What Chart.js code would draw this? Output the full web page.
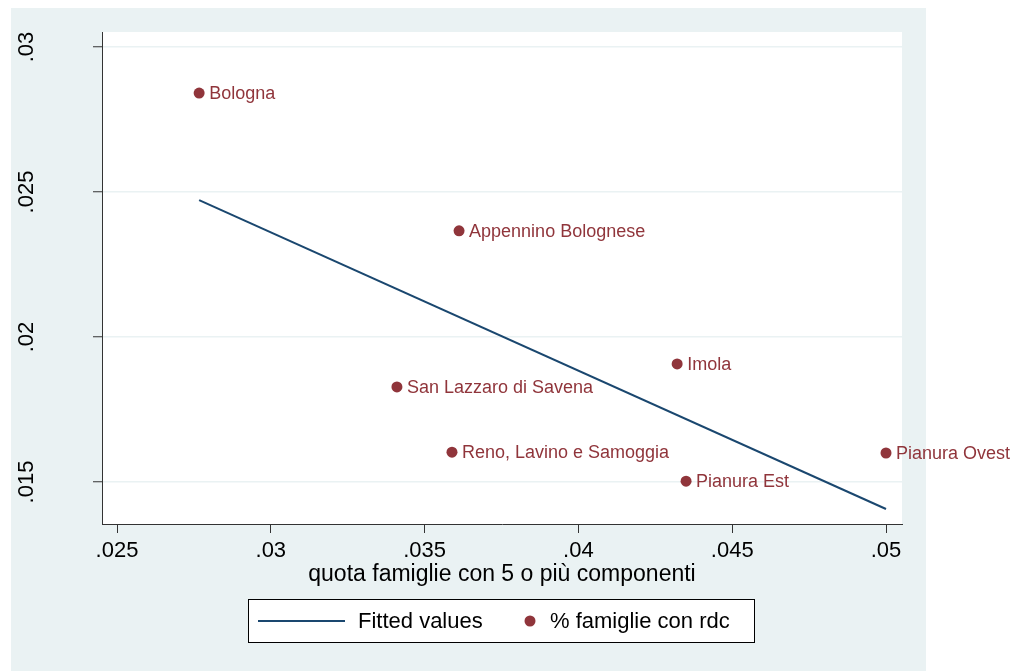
<!DOCTYPE html>
<html>
<head>
<meta charset="utf-8">
<script src="https://cdn.jsdelivr.net/npm/chart.js@4"></script>
<style>
  html, body { margin: 0; padding: 0; background: #fff; }
</style>
</head>
<body>
<canvas id="chart" width="1016" height="671"></canvas>
<script>
// data
const areas = ["Bologna", "Appennino Bolognese", "Imola", "San Lazzaro di Savena",
  "Reno, Lavino e Samoggia", "Pianura Est", "Pianura Ovest"];
const quotaFamiglie = [0.02767, 0.03612, 0.04321, 0.03410, 0.03589, 0.04350, 0.05000];
const quotaRdc = [0.02841, 0.02366, 0.01907, 0.01828, 0.01603, 0.01503, 0.01600];
const fittedX = [0.02767, 0.05000];
const fittedY = [0.02472, 0.01407];
const xTicks = [0.025, 0.03, 0.035, 0.04, 0.045, 0.05];
const xTickLabels = [".025", ".03", ".035", ".04", ".045", ".05"];
const yTicks = [0.015, 0.02, 0.025, 0.03];
const yTickLabels = [".015", ".02", ".025", ".03"];

const FONT = "'Liberation Sans', Arial, sans-serif";
const NAVY = "#1a476f";
const MAROON = "#90353b";
const PANEL = "#eaf2f3";
const AXIS = "#333";

const background = {
  id: "background",
  beforeDraw(chart) {
    const { ctx, chartArea: a } = chart;
    ctx.save();
    ctx.fillStyle = "#fff";
    ctx.fillRect(0, 0, chart.width, chart.height);
    ctx.fillStyle = PANEL;
    ctx.fillRect(11, 8, 915, chart.height - 8);
    ctx.fillStyle = "#fff";
    ctx.fillRect(a.left, a.top, a.right - a.left, a.bottom - a.top);
    ctx.restore();
  }
};

const pointLabels = {
  id: "pointLabels",
  afterDatasetsDraw(chart) {
    const { ctx } = chart;
    const meta = chart.getDatasetMeta(1);
    ctx.save();
    ctx.font = "18px " + FONT;
    ctx.fillStyle = MAROON;
    ctx.textBaseline = "middle";
    ctx.textAlign = "left";
    meta.data.forEach((pt, i) => {
      ctx.fillText(areas[i], pt.x + 10, pt.y + 1);
    });
    ctx.restore();
  }
};

const boxLegend = {
  id: "boxLegend",
  afterDraw(chart) {
    const { ctx } = chart;
    const ds = chart.data.datasets;
    const y = 621;
    ctx.save();
    ctx.fillStyle = "#fff";
    ctx.fillRect(248, 599, 506, 43);
    ctx.strokeStyle = "#000";
    ctx.lineWidth = 1;
    ctx.strokeRect(248.5, 599.5, 506, 43);
    ctx.strokeStyle = NAVY;
    ctx.lineWidth = 2;
    ctx.beginPath();
    ctx.moveTo(258, y);
    ctx.lineTo(345, y);
    ctx.stroke();
    ctx.fillStyle = MAROON;
    ctx.beginPath();
    ctx.arc(530, y, 5.5, 0, Math.PI * 2);
    ctx.fill();
    ctx.fillStyle = "#000";
    ctx.font = "22px " + FONT;
    ctx.textBaseline = "middle";
    ctx.fillText(ds[0].label, 358, y + 1);
    ctx.fillText(ds[1].label, 550, y + 1);
    ctx.restore();
  }
};

new Chart(document.getElementById("chart"), {
  type: "scatter",
  data: {
    datasets: [
      {
        type: "line",
        label: "Fitted values",
        data: fittedX.map((x, i) => ({ x, y: fittedY[i] })),
        borderColor: NAVY,
        borderWidth: 2,
        pointRadius: 0,
        fill: false,
      },
      {
        type: "scatter",
        label: "% famiglie con rdc",
        data: quotaFamiglie.map((x, i) => ({ x, y: quotaRdc[i] })),
        backgroundColor: MAROON,
        borderWidth: 0,
        pointRadius: 5.5,
      },
    ],
  },
  options: {
    responsive: false,
    animation: false,
    layout: { padding: { top: 32, right: 114, left: 0, bottom: 0 } },
    plugins: { legend: { display: false }, tooltip: { enabled: false } },
    scales: {
      x: {
        type: "linear",
        position: "bottom",
        min: 0.024512,
        max: 0.05052,
        afterBuildTicks: (s) => { s.ticks = xTicks.map((v) => ({ value: v })); },
        afterFit: (s) => { s.height = 147; s.paddingLeft = 0; s.paddingRight = 0; },
        ticks: {
          callback: (v, i) => xTickLabels[i],
          autoSkip: false,
          maxRotation: 0,
          padding: 5,
          color: "#000",
          font: { family: FONT, size: 22 },
        },
        grid: { drawOnChartArea: false, tickLength: 9, tickColor: AXIS },
        border: { color: AXIS, width: 1 },
        title: {
          display: true,
          text: "quota famiglie con 5 o più componenti",
          color: "#000",
          font: { family: FONT, size: 23 },
          padding: { top: 0, bottom: 83 },
        },
      },
      y: {
        type: "linear",
        min: 0.013552,
        max: 0.030517,
        afterBuildTicks: (s) => { s.ticks = yTicks.map((v) => ({ value: v })); },
        afterFit: (s) => { s.width = 102; s.paddingTop = 0; s.paddingBottom = 0; },
        ticks: {
          callback: (v, i) => yTickLabels[i],
          autoSkip: false,
          minRotation: 90,
          maxRotation: 90,
          crossAlign: "center",
          padding: 45,
          color: "#000",
          font: { family: FONT, size: 22 },
        },
        grid: { color: PANEL, lineWidth: 1.5, tickLength: 9, tickColor: AXIS, tickWidth: 1 },
        border: { color: AXIS, width: 1 },
      },
    },
  },
  plugins: [background, pointLabels, boxLegend],
});
</script>
</body>
</html>
